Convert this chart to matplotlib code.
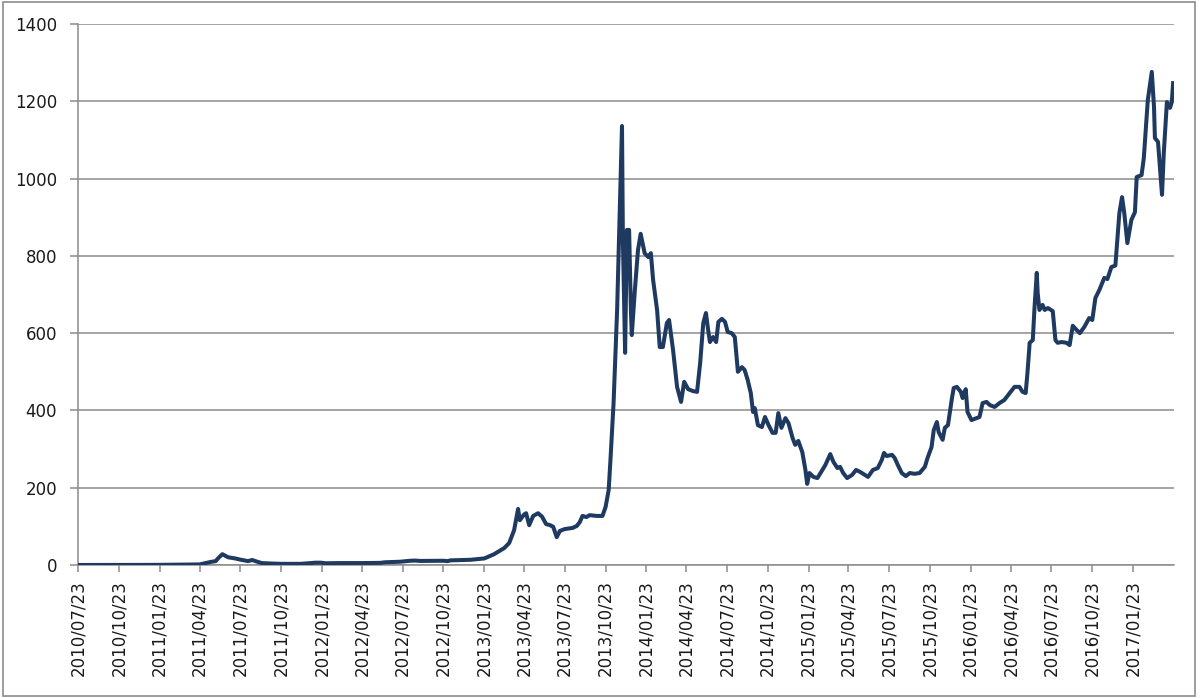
import matplotlib
matplotlib.use('Agg')
import matplotlib.pyplot as plt
import matplotlib.dates as mdates
from matplotlib.patches import Rectangle
import pandas as pd

# price readings (date, value)
dates = [
    '2010-07-23', '2010-09-01', '2010-10-23', '2010-12-01', '2011-01-23', '2011-03-01',
    '2011-04-23', '2011-05-06', '2011-05-18', '2011-05-29', '2011-06-04', '2011-06-13',
    '2011-06-26', '2011-07-12', '2011-07-23', '2011-08-10', '2011-08-19', '2011-09-01',
    '2011-09-10', '2011-09-28', '2011-10-23', '2011-12-07', '2011-12-29', '2012-01-09',
    '2012-01-21', '2012-02-01', '2012-03-05', '2012-04-23', '2012-06-02', '2012-06-13',
    '2012-07-18', '2012-08-09', '2012-08-20', '2012-09-01', '2012-10-23', '2012-11-01',
    '2012-11-08', '2012-12-23', '2013-01-23', '2013-02-14', '2013-03-09', '2013-03-20',
    '2013-03-31', '2013-04-09', '2013-04-13', '2013-04-22', '2013-04-27', '2013-05-04',
    '2013-05-13', '2013-05-24', '2013-06-02', '2013-06-11', '2013-06-20', '2013-06-27',
    '2013-07-05', '2013-07-12', '2013-07-23', '2013-08-10', '2013-08-19', '2013-08-26',
    '2013-09-01', '2013-09-10', '2013-09-17', '2013-10-03', '2013-10-16', '2013-10-23',
    '2013-10-30', '2013-11-03', '2013-11-10', '2013-11-18', '2013-11-25', '2013-11-29',
    '2013-12-01', '2013-12-04', '2013-12-06', '2013-12-10', '2013-12-15', '2013-12-19',
    '2013-12-21', '2013-12-28', '2014-01-04', '2014-01-10', '2014-01-19', '2014-01-27',
    '2014-02-02', '2014-02-07', '2014-02-16', '2014-02-22', '2014-03-01', '2014-03-10',
    '2014-03-15', '2014-03-24', '2014-04-02', '2014-04-11', '2014-04-18', '2014-04-27',
    '2014-05-08', '2014-05-17', '2014-05-24', '2014-05-31', '2014-06-06', '2014-06-11',
    '2014-06-15', '2014-06-22', '2014-06-29', '2014-07-04', '2014-07-12', '2014-07-19',
    '2014-07-25', '2014-08-03', '2014-08-10', '2014-08-17', '2014-08-26', '2014-09-01',
    '2014-09-08', '2014-09-15', '2014-09-20', '2014-09-24', '2014-10-01', '2014-10-10',
    '2014-10-17', '2014-10-25', '2014-11-03', '2014-11-10', '2014-11-16', '2014-11-23',
    '2014-12-02', '2014-12-09', '2014-12-18', '2014-12-24', '2014-12-31', '2015-01-09',
    '2015-01-16', '2015-01-20', '2015-01-25', '2015-02-03', '2015-02-12', '2015-02-19',
    '2015-03-02', '2015-03-13', '2015-03-20', '2015-03-29', '2015-04-04', '2015-04-11',
    '2015-04-20', '2015-05-01', '2015-05-10', '2015-05-19', '2015-05-30', '2015-06-06',
    '2015-06-17', '2015-06-28', '2015-07-07', '2015-07-12', '2015-07-18', '2015-07-30',
    '2015-08-05', '2015-08-12', '2015-08-21', '2015-08-30', '2015-09-08', '2015-09-19',
    '2015-09-30', '2015-10-12', '2015-10-18', '2015-10-27', '2015-11-01', '2015-11-08',
    '2015-11-12', '2015-11-21', '2015-11-26', '2015-12-03', '2015-12-12', '2015-12-16',
    '2015-12-23', '2016-01-01', '2016-01-05', '2016-01-12', '2016-01-16', '2016-01-25',
    '2016-02-01', '2016-02-12', '2016-02-19', '2016-02-28', '2016-03-06', '2016-03-17',
    '2016-03-28', '2016-04-08', '2016-04-20', '2016-05-01', '2016-05-12', '2016-05-19',
    '2016-05-26', '2016-05-30', '2016-06-04', '2016-06-11', '2016-06-15', '2016-06-20',
    '2016-06-22', '2016-06-26', '2016-07-03', '2016-07-08', '2016-07-15', '2016-07-26',
    '2016-08-01', '2016-08-06', '2016-08-15', '2016-08-26', '2016-09-02', '2016-09-09',
    '2016-09-18', '2016-09-25', '2016-10-05', '2016-10-16', '2016-10-23', '2016-10-30',
    '2016-11-08', '2016-11-19', '2016-11-26', '2016-12-05', '2016-12-14', '2016-12-23',
    '2016-12-29', '2017-01-03', '2017-01-10', '2017-01-19', '2017-01-27', '2017-01-31',
    '2017-02-11', '2017-02-16', '2017-02-25', '2017-03-06', '2017-03-11', '2017-03-13',
    '2017-03-20', '2017-03-29', '2017-04-02', '2017-04-09', '2017-04-16', '2017-04-20',
    '2017-04-23',
]
prices = [
    0.06, 0.06, 0.1, 0.25, 0.4, 0.9,
    1.5, 5, 8, 10, 18, 28,
    20, 17, 14, 10, 13, 8,
    5, 4, 3, 3, 5, 6,
    6, 4.5, 5, 5, 5.5, 7,
    8.5, 11, 11.5, 10.5, 11, 10,
    12, 13.5, 17, 28, 44, 57,
    90, 145, 116, 130, 134, 103,
    127, 134, 125, 106, 103, 99,
    72, 88, 93, 96, 101, 111,
    127, 124, 129, 127, 127, 150,
    194, 272, 419, 660, 963, 1136,
    841, 660, 549, 867, 867, 660,
    595, 712, 815, 857, 807, 797,
    807, 738, 660, 564, 564, 626,
    634, 556, 461, 422, 474, 455,
    450, 448, 523, 626, 652, 608,
    577, 590, 577, 629, 637, 629,
    603, 600, 590, 500, 512, 505,
    479, 445, 396, 406, 362, 357,
    383, 362, 342, 342, 393, 355,
    380, 367, 329, 311, 321, 292,
    246, 210, 238, 228, 225, 238,
    259, 287, 267, 251, 254, 238,
    225, 233, 246, 241, 233, 228,
    246, 251, 272, 290, 282, 285,
    277, 259, 238, 230, 238, 236,
    238, 254, 277, 305, 349, 370,
    344, 324, 355, 362, 432, 458,
    461, 448, 432, 455, 396, 375,
    378, 383, 419, 422, 414, 409,
    419, 427, 445, 461, 461, 448,
    445, 497, 575, 582, 668, 756,
    704, 660, 673, 660, 665, 657,
    582, 575, 577, 575, 569, 619,
    608, 600, 616, 639, 634, 691,
    712, 743, 740, 771, 775, 911,
    952, 911, 833, 893, 913, 1004,
    1009, 1053, 1203, 1276, 1185, 1105,
    1095, 958, 1066, 1198, 1183, 1198,
    1247,
]

# quarterly ticks on the 23rd, 2010/07/23 .. 2017/01/23
tick_dates = pd.date_range('2010-07-01', '2017-01-01', freq='3MS') + pd.Timedelta(days=22)
y_ticks = [0, 200, 400, 600, 800, 1000, 1200, 1400]

x = pd.to_datetime(dates)

fig = plt.figure(figsize=(12, 6.98), dpi=100)
ax = fig.add_axes([78 / 1200, 133 / 698, 1096 / 1200, 541 / 698])

grid_c = '#8c8c8c'
text_c = '#1a1a1a'

ax.plot(x, prices, color='#1f3a60', lw=2.9, solid_joinstyle='round', zorder=3)

ax.set_ylim(0, 1400)
ax.set_yticks(y_ticks)
ax.set_xlim(pd.Timestamp('2010-07-23'), pd.Timestamp('2017-04-25'))
ax.set_xticks(tick_dates)
ax.xaxis.set_major_formatter(mdates.DateFormatter('%Y/%m/%d'))

ax.grid(axis='y', color=grid_c, lw=1.1)
ax.set_axisbelow(True)
for s in ['top', 'right']:
    ax.spines[s].set_visible(False)
for s in ['left', 'bottom']:
    ax.spines[s].set_color(grid_c)
    ax.spines[s].set_linewidth(1.1)

ax.tick_params(axis='y', length=6, width=1.1, color=grid_c, pad=9,
               labelsize=12, labelcolor=text_c)
ax.tick_params(axis='x', length=5, width=1.1, color=grid_c, pad=6,
               labelsize=12, labelcolor=text_c, labelrotation=90)

fig.patches.append(Rectangle((3 / 1200, 2 / 698), 1192 / 1200, 694 / 698,
                             transform=fig.transFigure, fill=False,
                             edgecolor=grid_c, lw=1.2))

fig.savefig('out.png', dpi=100)
